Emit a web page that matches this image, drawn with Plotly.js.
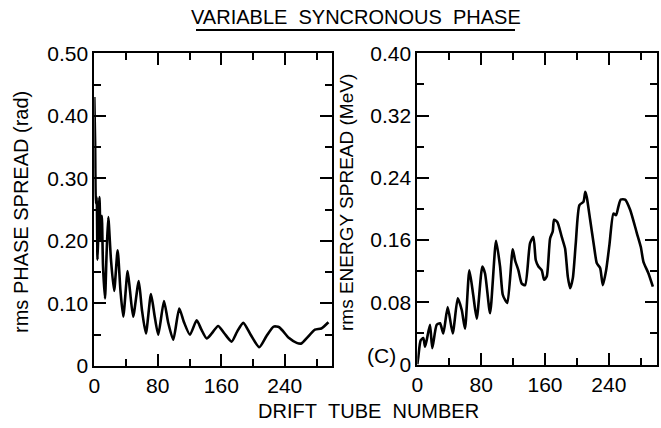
<!DOCTYPE html>
<html>
<head>
<meta charset="utf-8">
<script src="https://cdn.plot.ly/plotly-3.0.1.min.js"></script>
<style>html,body{margin:0;padding:0;background:#fff;}#chart{width:661px;height:428px;}</style>
</head>
<body>
<div id="chart"></div>
<script>
// Left panel: rms phase spread (rad) vs drift tube number
const phaseX = [0,1,2,3,4,5,6.5,8,9.5,11,13.5,15.5,17.6,21,25,29.4,33,36.5,42,45,49,56,60,65,71.4,76,80.6,87.8,93,99.5,107,113,120.5,129,135,141.6,148,156,164,173,180,187.7,197,207.8,217,226,233,245,255,261,268,278,286,295];
const phaseY = [0.43,0.36,0.26,0.27,0.17,0.21,0.27,0.20,0.24,0.16,0.108,0.18,0.238,0.17,0.120,0.185,0.12,0.079,0.152,0.12,0.079,0.136,0.09,0.052,0.115,0.08,0.050,0.104,0.07,0.042,0.092,0.07,0.050,0.073,0.058,0.044,0.052,0.064,0.052,0.039,0.055,0.069,0.05,0.030,0.048,0.063,0.062,0.045,0.037,0.036,0.045,0.058,0.060,0.070];

// Right panel: rms energy spread (MeV) vs drift tube number
const energyX = [0,1.3,4.2,7.5,9.7,11.7,15.9,18.8,24.3,28.5,32.6,38.1,44.4,50.7,55.7,59.8,65.2,70,74.5,81.5,84.9,91.2,98.7,103.7,107,110,112.9,119.6,122.5,126.7,130.9,135.1,141.3,145.5,148.5,151.8,156,158.9,162.2,166.4,169.7,171.4,175.6,181,185.2,188.6,191.5,194.9,198.6,203.2,208.2,210.5,212.4,216.6,221.6,225,229.1,232.5,236.6,240.8,245.8,249.1,252,255,260.4,266.7,275.1,280.1,283.4,289.7,295.2];
const energyY = [0.0,0.01,0.031,0.034,0.023,0.031,0.051,0.021,0.051,0.053,0.040,0.074,0.040,0.085,0.070,0.046,0.121,0.09,0.059,0.126,0.117,0.066,0.159,0.126,0.09,0.083,0.079,0.148,0.134,0.121,0.104,0.102,0.156,0.164,0.134,0.126,0.121,0.109,0.113,0.162,0.171,0.186,0.183,0.164,0.149,0.113,0.098,0.111,0.156,0.205,0.209,0.222,0.215,0.186,0.151,0.130,0.124,0.102,0.121,0.154,0.194,0.192,0.203,0.212,0.212,0.199,0.169,0.151,0.132,0.117,0.100];

const xTickVals = [0,80,160,240];
const xTickText = ['0','80','160','240'];
const xMinorVals = [40,120,200,280];
const phaseTickVals = [0,0.1,0.2,0.3,0.4,0.5];
const phaseTickText = ['0','0.10','0.20','0.30','0.40','0.50'];
const phaseMinorVals = [0.05,0.15,0.25,0.35,0.45];
const energyTickVals = [0,0.08,0.16,0.24,0.32,0.40];
const energyTickText = ['0','0.08','0.16','0.24','0.32','0.40'];
const energyMinorVals = [0.04,0.12,0.20,0.28,0.36];

const FONT = 'Liberation Sans Narrow, Liberation Sans, Arial, sans-serif';
const W = 661, H = 428;
const px = v => v / W;
const py = v => 1 - v / H;
const f = s => ({family: FONT, size: s, color: '#000'});

function axis(domain, range, tv, tt, mv, anchor) {
  return {
    domain: domain, range: range, anchor: anchor,
    tickmode: 'array', tickvals: tv, ticktext: tt,
    ticks: 'inside', ticklen: 12, tickwidth: 2, tickcolor: '#000',
    minor: {tickmode: 'array', tickvals: mv, ticks: 'inside', ticklen: 7, tickwidth: 2, tickcolor: '#000'},
    showline: true, linewidth: 2, linecolor: '#000', mirror: 'ticks',
    showgrid: false, zeroline: false,
    tickfont: f(21),
    fixedrange: true
  };
}

const traces = [
  {x: phaseX, y: phaseY, xaxis: 'x', yaxis: 'y', type: 'scatter', mode: 'lines',
   line: {color: '#000', width: 2.6, shape: 'spline', smoothing: 0.6}, hoverinfo: 'skip'},
  {x: energyX, y: energyY, xaxis: 'x2', yaxis: 'y2', type: 'scatter', mode: 'lines',
   line: {color: '#000', width: 2.6, shape: 'spline', smoothing: 0.6}, hoverinfo: 'skip'}
];

const layout = {
  width: W, height: H,
  margin: {l: 0, r: 0, t: 0, b: 0},
  paper_bgcolor: '#fff', plot_bgcolor: '#fff',
  showlegend: false,
  font: f(14),
  xaxis: axis([px(94.3), px(332.4)], [0, 300], xTickVals, xTickText, xMinorVals, 'y'),
  yaxis: axis([py(366), py(53.3)], [0, 0.5], phaseTickVals, phaseTickText, phaseMinorVals, 'x'),
  xaxis2: axis([px(417.3), px(656.7)], [0, 300], xTickVals, xTickText, xMinorVals, 'y2'),
  yaxis2: axis([py(364.5), py(53.3)], [0, 0.4], energyTickVals, energyTickText, energyMinorVals, 'x2'),
  shapes: [
    {type: 'line', xref: 'paper', yref: 'paper', x0: px(196), x1: px(515), y0: py(30), y1: py(30),
     line: {color: '#000', width: 2}}
  ],
  annotations: [
    {text: 'VARIABLE\u00a0\u00a0SYNCRONOUS\u00a0\u00a0PHASE', xref: 'paper', yref: 'paper',
     x: px(356), y: py(17), xanchor: 'center', yanchor: 'middle', showarrow: false,
     font: f(20)},
    {text: 'DRIFT\u00a0\u00a0TUBE\u00a0\u00a0NUMBER', xref: 'paper', yref: 'paper',
     x: px(368), y: py(411), xanchor: 'center', yanchor: 'middle', showarrow: false,
     font: f(20)},
    {text: 'rms PHASE SPREAD (rad)', xref: 'paper', yref: 'paper', textangle: -90,
     x: px(21), y: py(212), xanchor: 'center', yanchor: 'middle', showarrow: false,
     font: f(20)},
    {text: 'rms ENERGY SPREAD (MeV)', xref: 'paper', yref: 'paper', textangle: -90,
     x: px(346), y: py(203), xanchor: 'center', yanchor: 'middle', showarrow: false,
     font: f(19)},
    {text: '(C)', xref: 'paper', yref: 'paper',
     x: px(381), y: py(355), xanchor: 'center', yanchor: 'middle', showarrow: false,
     font: f(21)}
  ]
};

Plotly.newPlot('chart', traces, layout, {displayModeBar: false, staticPlot: true});
</script>
</body>
</html>
